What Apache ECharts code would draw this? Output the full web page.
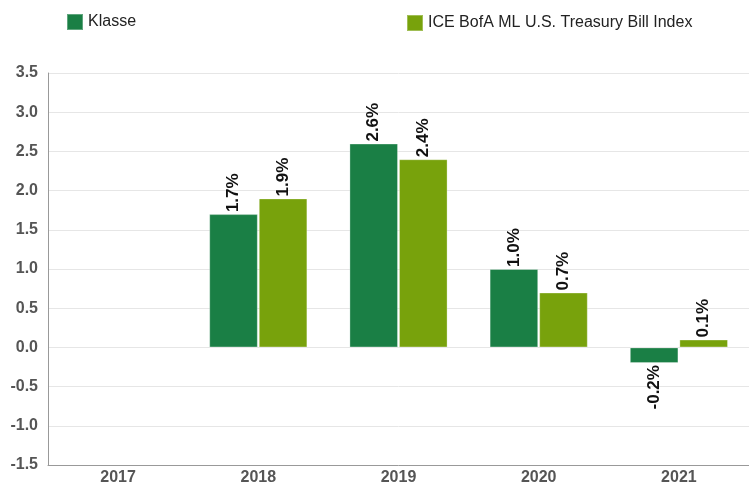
<!DOCTYPE html>
<html><head><meta charset="utf-8">
<script src="https://cdn.jsdelivr.net/npm/echarts@6/dist/echarts.min.js"></script>
<style>html,body{margin:0;padding:0;background:#fff;overflow:hidden}#c{width:749px;height:486px}</style>
</head><body><div id="c"></div>
<script>
const categories = ['2017', '2018', '2019', '2020', '2021'];
const klasse = [null, 1.7, 2.6, 1.0, -0.2];
const ice = [null, 1.9, 2.4, 0.7, 0.1];
const seriesNames = ['Klasse', 'ICE BofA ML U.S. Treasury Bill Index'];
const colors = ['#1a7f45', '#78a20c'];

function withLabels(arr) {
  return arr.map(v => {
    if (v === null) return null;
    if (v < 0) return { value: v, label: { position: 'bottom', align: 'right' } };
    return v;
  });
}
const labelCfg = {
  show: true, position: 'top', rotate: 90, align: 'left', verticalAlign: 'middle',
  distance: 2, color: '#111', fontWeight: 'bold', fontSize: 17, fontFamily: 'Liberation Sans',
  formatter: p => p.value.toFixed(1) + '%'
};
const legendText = { fontSize: 16, color: '#222', fontFamily: 'Liberation Sans' };
const chart = echarts.init(document.getElementById('c'));
chart.setOption({
  animation: false,
  textStyle: { fontFamily: 'Liberation Sans' },
  legend: [
    { data: [seriesNames[0]], left: 66, top: 13, itemWidth: 16, itemHeight: 16, itemGap: 6, padding: 0,
      textStyle: legendText, icon: 'rect' },
    { data: [seriesNames[1]], left: 406, top: 14, itemWidth: 16, itemHeight: 16, itemGap: 6, padding: 0,
      textStyle: legendText, icon: 'rect' }
  ],
  grid: { left: 48, right: -5, top: 73, bottom: 21, containLabel: false },
  xAxis: {
    type: 'category', data: categories,
    axisLine: { onZero: false, lineStyle: { color: '#999' } },
    axisTick: { show: false },
    axisLabel: { color: '#555', fontWeight: 'bold', fontSize: 16, margin: 5, fontFamily: 'Liberation Sans' }
  },
  yAxis: {
    type: 'value', min: -1.5, max: 3.5, interval: 0.5,
    axisLine: { show: true, lineStyle: { color: '#999' } },
    axisTick: { show: false },
    splitLine: { lineStyle: { color: '#e6e6e6' } },
    axisLabel: { color: '#555', fontWeight: 'bold', fontSize: 16, margin: 10, fontFamily: 'Liberation Sans',
      formatter: v => v.toFixed(1) }
  },
  series: [
    { name: seriesNames[0], type: 'bar', data: withLabels(klasse), barGap: '2%', barCategoryGap: '30%',
      itemStyle: { color: colors[0], borderColor: 'rgba(255,255,255,0.3)', borderWidth: 1 }, label: labelCfg },
    { name: seriesNames[1], type: 'bar', data: withLabels(ice),
      itemStyle: { color: colors[1], borderColor: 'rgba(255,255,255,0.3)', borderWidth: 1 }, label: labelCfg }
  ]
});
</script></body></html>
